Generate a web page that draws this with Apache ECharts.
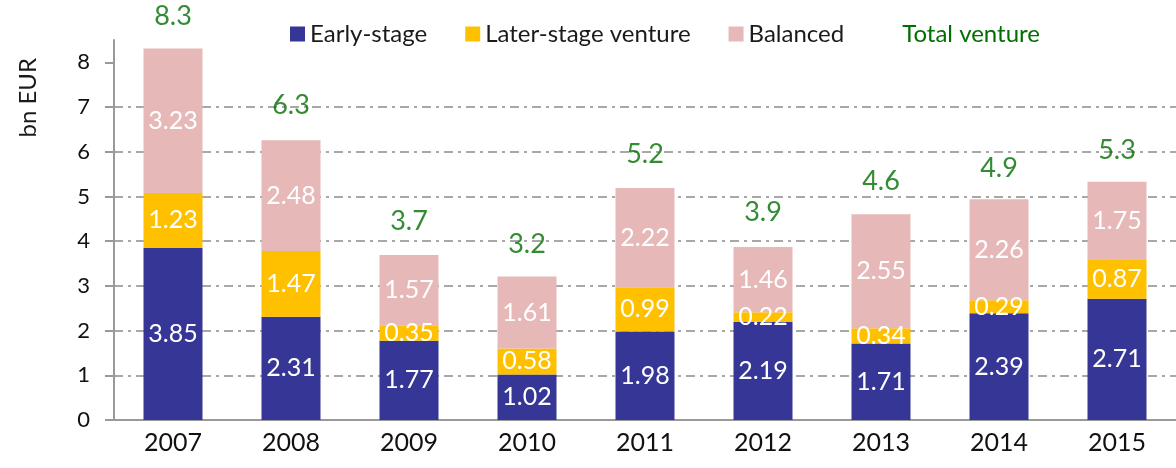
<!DOCTYPE html>
<html>
<head>
<meta charset="utf-8">
<style>
  html, body { margin:0; padding:0; background:#fff; }
  #chart { width:1176px; height:468px; }
</style>
<script src="https://cdn.jsdelivr.net/npm/echarts@6/dist/echarts.min.js"></script>
</head>
<body>
<div id="chart"></div>
<script>
/* Venture fundraising by stage, 2007-2015, stacked bars with totals on top. */
var YEARS    = ['2007','2008','2009','2010','2011','2012','2013','2014','2015'];
var EARLY    = [3.85, 2.31, 1.77, 1.02, 1.98, 2.19, 1.71, 2.39, 2.71];
var LATER    = [1.23, 1.47, 0.35, 0.58, 0.99, 0.22, 0.34, 0.29, 0.87];
var BALANCED = [3.23, 2.48, 1.57, 1.61, 2.22, 1.46, 2.55, 2.26, 1.75];
var TOTALS   = [8.3, 6.3, 3.7, 3.2, 5.2, 3.9, 4.6, 4.9, 5.3];
var YTICKS   = [0, 1, 2, 3, 4, 5, 6, 7, 8];

var FONT = 'Lato';
var GREEN = '#006e00';
var AXIS = '#999999';

function barLabel(){
  return { show:true, position:'inside', color:'#ffffff', fontFamily:FONT, fontSize:25,
           formatter:function(p){ return p.value.toFixed(2); } };
}

var chart = echarts.init(document.getElementById('chart'), null, {renderer:'canvas'});

chart.setOption({
  animation:false,
  textStyle:{ fontFamily:FONT },
  grid:{ left:114, right:0, top:40, bottom:48, containLabel:false },
  legend:{
    left:285, top:17, itemWidth:15, itemHeight:15, itemGap:38,
    textStyle:{ fontFamily:FONT, fontSize:24, color:'#1a1a1a' },
    data:[
      { name:'Early-stage', icon:'rect' },
      { name:'Later-stage venture', icon:'rect' },
      { name:'Balanced', icon:'rect' },
      { name:'Total venture', icon:'none', textStyle:{ color:GREEN } }
    ]
  },
  graphic:[{
    type:'text', left:16, top:58, rotation:Math.PI/2,
    style:{ text:'bn EUR', fill:'#1a1a1a', font:'24px ' + FONT }
  }],
  xAxis:{
    type:'category', data:YEARS,
    axisLine:{ lineStyle:{ color:AXIS, width:2 } },
    axisTick:{ show:false },
    axisLabel:{ color:'#111', fontFamily:FONT, fontSize:25, margin:10 }
  },
  yAxis:{
    type:'value', min:0, max:8.5, interval:1,
    axisLine:{ show:true, lineStyle:{ color:AXIS, width:2 } },
    axisTick:{ show:true, length:9, customValues:YTICKS, lineStyle:{ color:AXIS, width:2 } },
    axisLabel:{ customValues:YTICKS, color:'#111', fontFamily:FONT, fontSize:22, margin:24 },
    splitLine:{ show:true, showMaxLine:false, showMinLine:false,
                lineStyle:{ color:'#8c8c8c', width:1.5, type:[9,5,3,5] } }
  },
  series:[
    { name:'Early-stage', type:'bar', stack:'v', barWidth:'50%', data:EARLY,
      itemStyle:{ color:'#363696' }, label:barLabel() },
    { name:'Later-stage venture', type:'bar', stack:'v', data:LATER,
      itemStyle:{ color:'#ffc000' }, label:barLabel() },
    { name:'Balanced', type:'bar', stack:'v', data:BALANCED,
      itemStyle:{ color:'#e6b9b8' }, label:barLabel() },
    { name:'Total venture', type:'scatter', data:TOTALS, symbolSize:1,
      itemStyle:{ color:'rgba(0,0,0,0)' },
      label:{ show:true, position:'top', distance:19, color:GREEN, fontFamily:FONT, fontSize:27,
              formatter:function(p){ return p.value.toFixed(1); } } }
  ]
});
</script>
</body>
</html>
